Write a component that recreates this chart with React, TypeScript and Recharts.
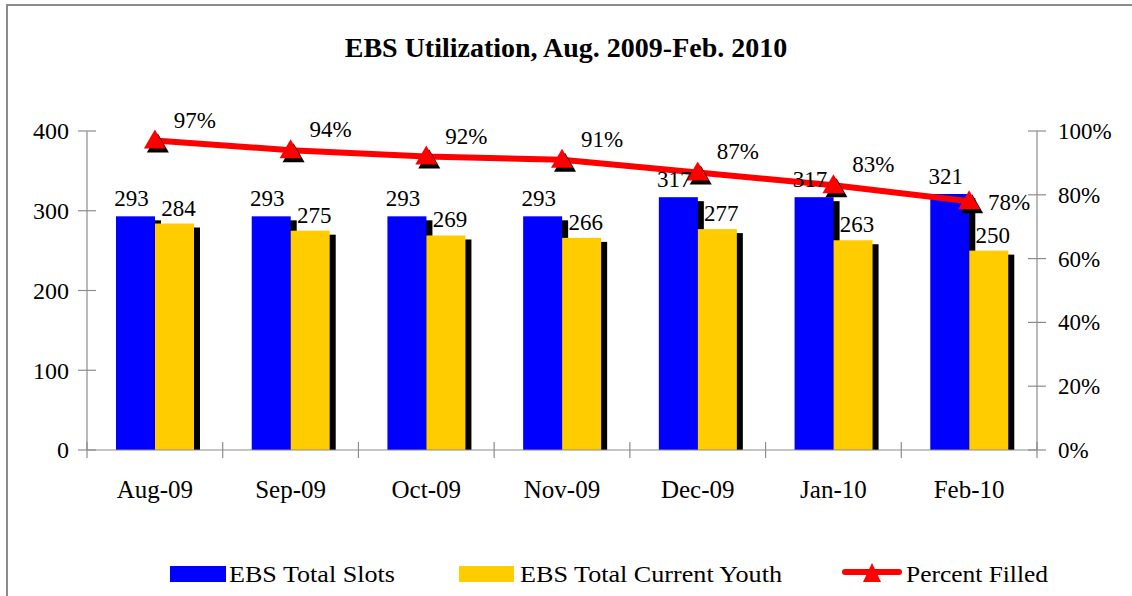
import React from 'react';
import { ComposedChart, Bar, Line, XAxis, YAxis, Legend, LabelList } from 'recharts';

const months = ['Aug-09', 'Sep-09', 'Oct-09', 'Nov-09', 'Dec-09', 'Jan-10', 'Feb-10'];
const totalSlots = [293, 293, 293, 293, 317, 317, 321];
const currentYouth = [284, 275, 269, 266, 277, 263, 250];
const percentFilled = [0.97, 0.94, 0.92, 0.91, 0.87, 0.83, 0.78];
const leftTicks = [0, 100, 200, 300, 400];
const rightTicks = [0, 0.2, 0.4, 0.6, 0.8, 1];

const data = months.map((m, i) => ({
  month: m,
  slots: totalSlots[i],
  youth: currentYouth[i],
  pct: percentFilled[i],
}));

const FONT = "'Liberation Serif', 'Times New Roman', Times, serif";
const TXT = { fontFamily: FONT };
const AXIS = '#8c8c8c';
const W = 1132;
const H = 596;
const PLOT_LEFT = 87;
const PLOT_RIGHT = 1037;

const XTick = (props: any) => {
  const { x, y, payload, index } = props;
  const band = (PLOT_RIGHT - PLOT_LEFT) / months.length;
  return (
    <g>
      <line x1={x - band / 2} x2={x - band / 2} y1={y - 8} y2={y + 8} stroke={AXIS} strokeWidth={1.2} />
      {index === months.length - 1 && (
        <line x1={x + band / 2} x2={x + band / 2} y1={y - 8} y2={y + 8} stroke={AXIS} strokeWidth={1.2} />
      )}
      <text x={x} y={y + 48} textAnchor="middle" fontSize={25} style={TXT} fill="#000">
        {payload.value}
      </text>
    </g>
  );
};

const LeftTick = (props: any) => {
  const { x, y, payload } = props;
  return (
    <g>
      <line x1={x - 9} x2={x + 9} y1={y} y2={y} stroke={AXIS} strokeWidth={1.2} />
      <text x={x - 18} y={y} dy="0.35em" textAnchor="end" fontSize={24} style={TXT} fill="#000">
        {payload.value}
      </text>
    </g>
  );
};

const RightTick = (props: any) => {
  const { x, y, payload } = props;
  return (
    <g>
      <line x1={x - 9} x2={x + 9} y1={y} y2={y} stroke={AXIS} strokeWidth={1.2} />
      <text x={x + 21} y={y} dy="0.35em" textAnchor="start" fontSize={23} style={TXT} fill="#000">
        {`${Math.round(payload.value * 100)}%`}
      </text>
    </g>
  );
};

const ShadowBar = (props: any) => {
  const { x, y, width, height, fill } = props;
  if (!height || height <= 0) return null;
  return (
    <g>
      <rect x={x + 6} y={y + 4} width={width} height={Math.max(0, height - 4)} fill="#000" />
      <rect x={x} y={y} width={width} height={height} fill={fill} />
    </g>
  );
};

const SlotLabel = (props: any) => {
  const { x, y, width, value } = props;
  return (
    <text x={x + width / 2 - 4} y={y - 10} textAnchor="middle" fontSize={23} style={TXT} fill="#000">
      {value}
    </text>
  );
};

const YouthLabel = (props: any) => {
  const { x, y, width, value } = props;
  return (
    <text x={x + width / 2 + 4} y={y - 8} textAnchor="middle" fontSize={23} style={TXT} fill="#000">
      {value}
    </text>
  );
};

const PctLabel = (props: any) => {
  const { x, y, value, index } = props;
  const last = index === months.length - 1;
  return (
    <text x={x + 40} y={last ? y + 9 : y - 13} textAnchor="middle" fontSize={23} style={TXT} fill="#000">
      {`${Math.round(value * 100)}%`}
    </text>
  );
};

const TriDot = (props: any) => {
  const { cx, cy, index } = props;
  if (cx == null || cy == null) return null;
  return (
    <g key={`dot-${index}`}>
      <polygon points={`${cx + 3},${cy - 7} ${cx + 14},${cy + 12} ${cx - 8},${cy + 12}`} fill="#000" />
      <polygon points={`${cx},${cy - 11} ${cx + 11},${cy + 8} ${cx - 11},${cy + 8}`} fill="#ff0000" />
    </g>
  );
};

const LegendContent = () => (
  <svg width={W} height={44} style={{ display: 'block' }}>
    <rect x={170} y={16} width={56} height={16} fill="#0000ff" />
    <text x={229} y={32} fontSize={23} style={TXT} textLength={166} lengthAdjust="spacingAndGlyphs" fill="#000">
      EBS Total Slots
    </text>
    <rect x={459} y={16} width={55} height={16} fill="#ffcc00" />
    <text x={520} y={32} fontSize={23} style={TXT} textLength={262} lengthAdjust="spacingAndGlyphs" fill="#000">
      EBS Total Current Youth
    </text>
    <line x1={845} x2={899} y1={22} y2={22} stroke="#ff0000" strokeWidth={6} strokeLinecap="round" />
    <polygon points="872,13 881,32 863,32" fill="#ff0000" />
    <text x={906} y={32} fontSize={23} style={TXT} textLength={142} lengthAdjust="spacingAndGlyphs" fill="#000">
      Percent Filled
    </text>
  </svg>
);

export default function App() {
  return (
    <div
      style={{
        position: 'absolute',
        left: 0,
        top: 0,
        width: W,
        height: H,
        background: '#fff',
        overflow: 'hidden',
        fontFamily: FONT,
      }}
    >
      <ComposedChart width={W} height={H} data={data} margin={{ top: 131, right: 0, bottom: 0, left: 0 }} barGap={0}>
        <XAxis
          dataKey="month"
          height={146}
          tick={<XTick />}
          tickLine={false}
          tickSize={0}
          tickMargin={0}
          axisLine={{ stroke: AXIS, strokeWidth: 1.2 }}
          interval={0}
        />
        <YAxis
          yAxisId="left"
          orientation="left"
          width={87}
          domain={[0, 400]}
          ticks={leftTicks}
          tick={<LeftTick />}
          tickLine={false}
          tickSize={0}
          tickMargin={0}
          axisLine={{ stroke: AXIS, strokeWidth: 1.2 }}
          interval={0}
        />
        <YAxis
          yAxisId="right"
          orientation="right"
          width={95}
          domain={[0, 1]}
          ticks={rightTicks}
          tick={<RightTick />}
          tickLine={false}
          tickSize={0}
          tickMargin={0}
          axisLine={{ stroke: AXIS, strokeWidth: 1.2 }}
          interval={0}
        />
        <Legend
          layout="horizontal"
          verticalAlign="middle"
          align="center"
          wrapperStyle={{ position: 'absolute', top: 550, left: 0, width: W, height: 44 }}
          content={<LegendContent />}
        />
        <Bar yAxisId="left" dataKey="slots" fill="#0000ff" barSize={39} shape={<ShadowBar />} isAnimationActive={false}>
          <LabelList dataKey="slots" content={<SlotLabel />} />
        </Bar>
        <Bar yAxisId="left" dataKey="youth" fill="#ffcc00" barSize={39} shape={<ShadowBar />} isAnimationActive={false}>
          <LabelList dataKey="youth" content={<YouthLabel />} />
        </Bar>
        <Line
          yAxisId="right"
          dataKey="pct"
          stroke="#ff0000"
          strokeWidth={6}
          dot={<TriDot />}
          activeDot={false}
          isAnimationActive={false}
        >
          <LabelList dataKey="pct" content={<PctLabel />} />
        </Line>
      </ComposedChart>
      <svg width={W} height={H} style={{ position: 'absolute', left: 0, top: 0, pointerEvents: 'none' }}>
        <rect x={7} y={5} width={1140} height={600} fill="none" stroke="#8c8c8c" strokeWidth={2} />
        <text x={566} y={57} textAnchor="middle" fontSize={28} fontWeight="bold" style={TXT} fill="#000">
          EBS Utilization, Aug. 2009-Feb. 2010
        </text>
      </svg>
    </div>
  );
}
